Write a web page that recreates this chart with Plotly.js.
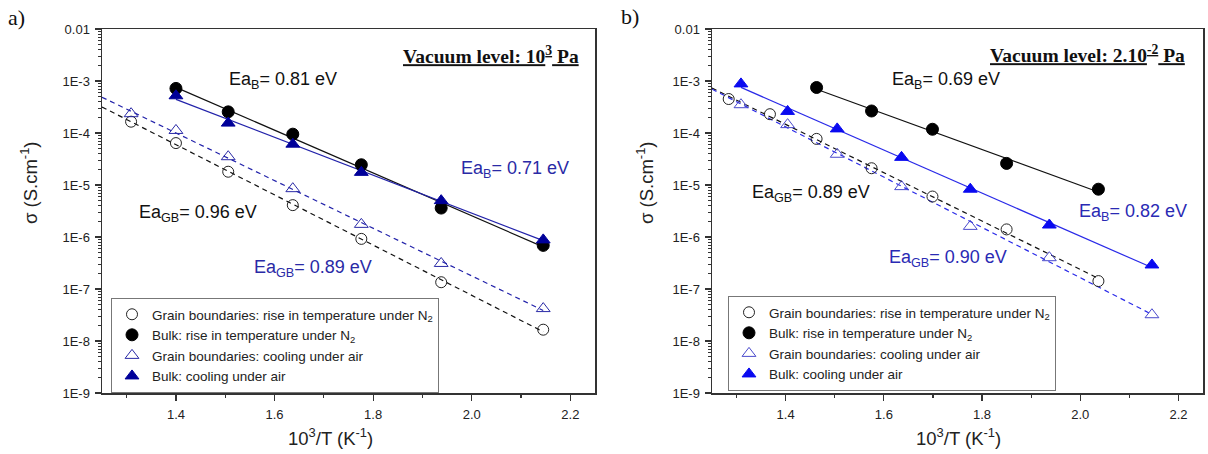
<!DOCTYPE html>
<html>
<head>
<meta charset="utf-8">
<script src="https://cdn.plot.ly/plotly-3.0.1.min.js"></script>
<style>
  html, body { margin: 0; padding: 0; background: #fff; }
  #chart { width: 1208px; height: 454px; }
</style>
</head>
<body>
<div id="chart"></div>
<script>
// ---- Panel a) vacuum level 10^3 Pa ----
const a_x_bulk = [1.400, 1.506, 1.637, 1.776, 1.938, 2.145];
const a_bulkN2 = [7.2e-4, 2.55e-4, 9.5e-5, 2.45e-5, 3.6e-6, 6.9e-7];
const a_bulkAir = [5.2e-4, 1.55e-4, 6.1e-5, 1.75e-5, 5.0e-6, 8.8e-7];
const a_x_gb = [1.309, 1.400, 1.506, 1.637, 1.776, 1.938, 2.145];
const a_gbN2 = [1.65e-4, 6.4e-5, 1.8e-5, 4.1e-6, 9.2e-7, 1.35e-7, 1.65e-8];
const a_gbAir = [2.35e-4, 1.12e-4, 3.5e-5, 8.5e-6, 1.75e-6, 3.1e-7, 4.2e-8];

// ---- Panel b) vacuum level 2.10^-2 Pa ----
const b_x_bulkN2 = [1.463, 1.575, 1.699, 1.850, 2.037];
const b_bulkN2 = [7.5e-4, 2.65e-4, 1.18e-4, 2.6e-5, 8.3e-6];
const b_x_air = [1.309, 1.404, 1.505, 1.636, 1.776, 1.937, 2.146];
const b_bulkAir = [8.8e-4, 2.6e-4, 1.2e-4, 3.4e-5, 8.3e-6, 1.7e-6, 2.9e-7];
const b_gbAir = [3.5e-4, 1.45e-4, 3.9e-5, 9.3e-6, 1.6e-6, 4.0e-7, 3.2e-8];
const b_x_gbN2 = [1.284, 1.368, 1.463, 1.575, 1.699, 1.850, 2.037];
const b_gbN2 = [4.5e-4, 2.3e-4, 7.7e-5, 2.1e-5, 6.0e-6, 1.4e-6, 1.42e-7];

// Activation energy labels
const a_labels = ["Ea<sub>B</sub>= 0.81 eV", "Ea<sub>B</sub>= 0.71 eV", "Ea<sub>GB</sub>= 0.96 eV", "Ea<sub>GB</sub>= 0.89 eV"];
const b_labels = ["Ea<sub>B</sub>= 0.69 eV", "Ea<sub>B</sub>= 0.82 eV", "Ea<sub>GB</sub>= 0.89 eV", "Ea<sub>GB</sub>= 0.90 eV"];

const legendNames = [
  "Grain boundaries: rise in temperature under N<sub>2</sub>",
  "Bulk: rise in temperature under N<sub>2</sub>",
  "Grain boundaries: cooling under air",
  "Bulk: cooling under air"
];

const yTickVals = [1e-2, 1e-3, 1e-4, 1e-5, 1e-6, 1e-7, 1e-8, 1e-9];
const yTickText = ["0.01", "1E-3", "1E-4", "1E-5", "1E-6", "1E-7", "1E-8", "1E-9"];
const xTickVals = [1.4, 1.6, 1.8, 2.0, 2.2];
const xTickText = ["1.4", "1.6", "1.8", "2.0", "2.2"];

// Arrhenius fit: least squares of log10(sigma) against 1000/T
function arrheniusFit(xs, ys, xFrom, xTo) {
  const n = xs.length;
  const ly = ys.map(v => Math.log10(v));
  const mx = xs.reduce((s, v) => s + v, 0) / n;
  const my = ly.reduce((s, v) => s + v, 0) / n;
  let sxy = 0, sxx = 0;
  for (let i = 0; i < n; i++) { sxy += (xs[i] - mx) * (ly[i] - my); sxx += (xs[i] - mx) ** 2; }
  const slope = sxy / sxx, icpt = my - slope * mx;
  return { x: [xFrom, xTo], y: [xFrom, xTo].map(v => Math.pow(10, icpt + slope * v)) };
}

const XMIN = 1.25;
const FONT = "Liberation Sans, Arial, sans-serif";
const SERIF = "Liberation Serif, Times New Roman, serif";

const aNavy = "#000099", aBlueLine = "#2222aa", aBlueText = "#2a2aa6";
const bBlue = "#0a0af0", bBlueLine = "#2a2ae8", bOpenBlue = "#4a4acc", bBlueText = "#2a2ab4";

function fitTrace(f, color, dash, xa, ya) {
  return { x: f.x, y: f.y, xaxis: xa, yaxis: ya, mode: "lines", showlegend: false, hoverinfo: "skip",
           line: { color: color, width: 1.2, dash: dash } };
}
function markerTrace(x, y, name, sym, size, fill, lineColor, xa, ya, leg) {
  return { x: x, y: y, xaxis: xa, yaxis: ya, mode: "markers", name: name, legend: leg,
           marker: { symbol: sym, size: size, color: fill, line: { color: lineColor, width: 1 } } };
}

const DASH = "5px,4px";
const traces = [
  // panel a fit lines
  fitTrace(arrheniusFit(a_x_bulk, a_bulkN2, 1.400, 2.145), "#111", "solid", "x", "y"),
  fitTrace(arrheniusFit(a_x_bulk, a_bulkAir, 1.400, 2.145), aBlueLine, "solid", "x", "y"),
  fitTrace(arrheniusFit(a_x_gb, a_gbN2, XMIN, 2.145), "#111", DASH, "x", "y"),
  fitTrace(arrheniusFit(a_x_gb, a_gbAir, XMIN, 2.145), aBlueLine, DASH, "x", "y"),
  // panel a markers
  markerTrace(a_x_gb, a_gbN2, legendNames[0], "circle-open", 11, "#222", "#222", "x", "y", "legend"),
  markerTrace(a_x_bulk, a_bulkN2, legendNames[1], "circle", 12, "#000", "#000", "x", "y", "legend"),
  markerTrace(a_x_gb, a_gbAir, legendNames[2], "triangle-up-open", 12, aBlueText, "#3a3ab8", "x", "y", "legend"),
  markerTrace(a_x_bulk, a_bulkAir, legendNames[3], "triangle-up", 12, aNavy, aNavy, "x", "y", "legend"),
  // panel b fit lines
  fitTrace(arrheniusFit(b_x_bulkN2, b_bulkN2, 1.463, 2.037), "#111", "solid", "x2", "y2"),
  fitTrace(arrheniusFit(b_x_air, b_bulkAir, 1.309, 2.146), bBlueLine, "solid", "x2", "y2"),
  fitTrace(arrheniusFit(b_x_gbN2, b_gbN2, XMIN, 2.037), "#111", DASH, "x2", "y2"),
  fitTrace(arrheniusFit(b_x_air, b_gbAir, XMIN, 2.146), bBlueLine, DASH, "x2", "y2"),
  // panel b markers
  markerTrace(b_x_gbN2, b_gbN2, legendNames[0], "circle-open", 11, "#222", "#222", "x2", "y2", "legend2"),
  markerTrace(b_x_bulkN2, b_bulkN2, legendNames[1], "circle", 12, "#000", "#000", "x2", "y2", "legend2"),
  markerTrace(b_x_air, b_gbAir, legendNames[2], "triangle-up-open", 12, bOpenBlue, bOpenBlue, "x2", "y2", "legend2"),
  markerTrace(b_x_air, b_bulkAir, legendNames[3], "triangle-up", 12, bBlue, bBlue, "x2", "y2", "legend2")
];

// minor ticks on log axis: 2..9 within each decade
const yMinor = [];
for (let d = -9; d < -2; d++) for (let k = 2; k <= 9; k++) yMinor.push(k * Math.pow(10, d));

function xAxis(domain, anchor) {
  return {
    domain: domain, anchor: anchor, range: [XMIN, 2.25], showgrid: false, zeroline: false,
    showline: true, mirror: true, linecolor: "#333", linewidth: 1.5,
    tickmode: "array", tickvals: xTickVals, ticktext: xTickText,
    ticks: "outside", ticklen: 6, tickwidth: 1.2, tickcolor: "#333", ticklabelstandoff: 3,
    minor: { tickmode: "array", tickvals: [1.3, 1.5, 1.7, 1.9, 2.1], ticks: "outside", ticklen: 3, tickwidth: 1.2, tickcolor: "#333", showgrid: false },
    tickfont: { family: FONT, size: 13, color: "#222" }
  };
}
function yAxis(domain, anchor) {
  return {
    domain: domain, anchor: anchor, type: "log", range: [-9, -2], showgrid: false, zeroline: false,
    showline: true, mirror: true, linecolor: "#333", linewidth: 1.5,
    tickmode: "array", tickvals: yTickVals, ticktext: yTickText,
    ticks: "outside", ticklen: 6, tickwidth: 1.2, tickcolor: "#333", ticklabelstandoff: 2,
    minor: { tickmode: "array", tickvals: yMinor, ticks: "outside", ticklen: 3, tickwidth: 1, tickcolor: "#333", showgrid: false },
    tickfont: { family: FONT, size: 13, color: "#222" }
  };
}

const W = 1208, H = 454;
const px = v => v / W, py = v => 1 - v / H;

function eaNote(text, xa, ya, x, logy, color) {
  return { text: text, xref: xa, yref: ya, x: x, y: logy, xanchor: "left", yanchor: "middle",
           showarrow: false, font: { family: FONT, size: 18, color: color } };
}
function paperNote(text, x, y, xanchor, font, angle) {
  return { text: text, xref: "paper", yref: "paper", x: px(x), y: py(y), xanchor: xanchor, yanchor: "middle",
           showarrow: false, font: font, textangle: angle || 0 };
}

const titleFont = { family: FONT, size: 18.5, color: "#222" };
const vacFont = { family: SERIF, size: 19.5, color: "#111" };
const panelFont = { family: SERIF, size: 22, color: "#111" };

const annotations = [
  eaNote(a_labels[0], "x", "y", 1.504, -3.0, "#111"),
  eaNote(a_labels[1], "x", "y", 1.975, -4.71, aBlueText),
  eaNote(a_labels[2], "x", "y", 1.320, -5.54, "#111"),
  eaNote(a_labels[3], "x", "y", 1.555, -6.615, aBlueText),
  eaNote(b_labels[0], "x2", "y2", 1.613, -3.0, "#111"),
  eaNote(b_labels[1], "x2", "y2", 1.993, -5.52, bBlueText),
  eaNote(b_labels[2], "x2", "y2", 1.328, -5.154, "#111"),
  eaNote(b_labels[3], "x2", "y2", 1.607, -6.42, bBlueText),
  paperNote("<b><u>Vacuum level: 10<sup>3</sup> Pa</u></b>", 581, 55, "right", vacFont),
  paperNote("<b><u>Vacuum level: 2.10<sup>-2</sup> Pa</u></b>", 1187, 54, "right", vacFont),
  paperNote("a)", 6, 18, "left", panelFont),
  paperNote("b)", 619, 16, "left", panelFont),
  paperNote("10<sup>3</sup>/T (K<sup>-1</sup>)", 330, 437, "center", titleFont),
  paperNote("10<sup>3</sup>/T (K<sup>-1</sup>)", 958, 437, "center", titleFont),
  paperNote("σ (S.cm<sup>-1</sup>)", 29, 183, "center", titleFont, -90),
  paperNote("σ (S.cm<sup>-1</sup>)", 645, 183, "center", titleFont, -90)
];

const legendCommon = {
  bgcolor: "#fff", bordercolor: "#777", borderwidth: 1,
  font: { family: FONT, size: 13.5, color: "#222" },
  xanchor: "left", yanchor: "top", tracegroupgap: 0, itemwidth: 30
};

const layout = {
  width: W, height: H,
  margin: { l: 0, r: 0, t: 0, b: 0, pad: 0 },
  paper_bgcolor: "#fff", plot_bgcolor: "#fff",
  showlegend: true,
  xaxis: xAxis([px(102), px(595)], "y"),
  yaxis: yAxis([py(393), py(29)], "x"),
  xaxis2: xAxis([px(712), px(1203)], "y2"),
  yaxis2: yAxis([py(393), py(29)], "x2"),
  legend: Object.assign({}, legendCommon, { x: px(111), y: py(298) }),
  legend2: Object.assign({}, legendCommon, { x: px(728), y: py(296) }),
  annotations: annotations
};

Plotly.newPlot("chart", traces, layout, { staticPlot: true, displayModeBar: false });
</script>
</body>
</html>
